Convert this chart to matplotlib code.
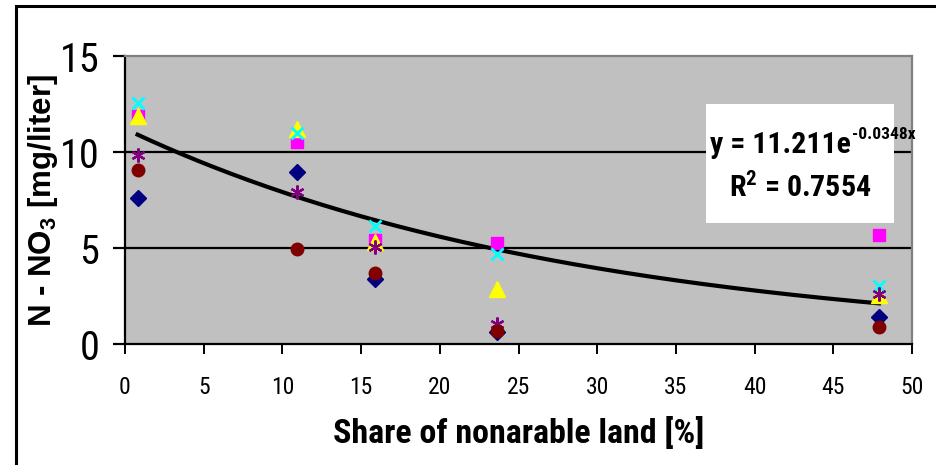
import numpy as np
import matplotlib
matplotlib.use("Agg")
import matplotlib.pyplot as plt
from matplotlib.patches import Rectangle

plt.rcParams['mathtext.default'] = 'regular'

# share of nonarable land [%] for the sampled catchments
share = [0.8, 10.9, 15.9, 23.65, 47.9]

# N-NO3 concentrations [mg/liter], one list per sampling series
s_diamond = [7.6, 8.95, 3.36, 0.64, 1.42]
s_square = [11.9, 10.5, 5.43, 5.28, 5.66]
s_triangle = [11.85, 11.2, 5.3, 2.89, 2.54]
s_cross = [12.57, 11.0, 6.17, 4.7, 3.0]
s_star = [9.86, 7.9, 5.05, 1.04, 2.63]
s_circle = [9.08, 4.97, 3.7, 0.67, 0.9]

# exponential trend shown on the chart
fit_a = 11.211
fit_b = -0.0348
fit_r2 = 0.7554

series = [
    (s_diamond, 'D', '#000080', 8),
    (s_square, 's', '#FF00FF', 9),
    (s_triangle, '^', '#FFFF00', 11),
    (s_cross, 'x', '#00FFFF', 9),
    (s_star, (6, 2, 0), '#800080', 10),
    (s_circle, 'o', '#800000', 9),
]

narrow = ['Roboto Condensed', 'Liberation Sans', 'DejaVu Sans']
wide = ['Liberation Sans', 'DejaVu Sans']

fig = plt.figure(figsize=(9.36, 4.65), dpi=100)
ax = fig.add_axes([125 / 936, 1 - 344 / 465, 787 / 936, 288 / 465])
ax.set_facecolor('#C0C0C0')

# frame around the whole chart
fig.patches.append(Rectangle((16 / 936, -0.05), 1.2, 1 - 6 / 465 + 0.05,
                             transform=fig.transFigure, fill=False,
                             edgecolor='black', linewidth=2.2))

# gridlines
for gy in [5, 10]:
    ax.axhline(gy, color='black', linewidth=1.6, zorder=1)

# trendline
xs = np.linspace(min(share), max(share), 200)
ax.plot(xs, fit_a * np.exp(fit_b * xs), color='black', linewidth=3, zorder=2)

for vals, mk, col, ms in series:
    if mk == 'x':
        ax.plot(share, vals, linestyle='none', marker=mk, color=col,
                markersize=ms, markeredgewidth=2, zorder=3)
    elif mk == (6, 2, 0):
        ax.plot(share, vals, linestyle='none', marker=mk, color=col,
                markersize=ms, markeredgewidth=1.6, zorder=3)
    else:
        ax.plot(share, vals, linestyle='none', marker=mk, color=col,
                markeredgecolor=col, markersize=ms, zorder=3)

ax.set_xlim(0, 50)
ax.set_ylim(0, 15)
ax.set_xticks(range(0, 51, 5))
ax.set_yticks([0, 5, 10, 15])

ax.spines['left'].set_linewidth(1.6)
ax.spines['bottom'].set_linewidth(1.6)
ax.spines['top'].set_color('#808080')
ax.spines['right'].set_color('#808080')
ax.spines['top'].set_linewidth(1.6)
ax.spines['right'].set_linewidth(1.6)

ax.tick_params(axis='y', direction='out', length=8.6, width=1.6, pad=10)
ax.tick_params(axis='x', direction='out', length=7, width=1.4, pad=16)
for lab in ax.get_yticklabels():
    lab.set_fontfamily(narrow)
    lab.set_fontsize(29)
for lab in ax.get_xticklabels():
    lab.set_fontfamily(narrow)
    lab.set_fontsize(17)

ax.set_xlabel('Share of nonarable land [%]', fontfamily=narrow,
              fontweight='bold', fontsize=24.5)
ax.xaxis.set_label_coords(0.5, -0.252)
ax.set_ylabel('N - NO$_3$ [mg/liter]', fontfamily=wide,
              fontweight='bold', fontsize=22.5)
ax.yaxis.set_label_coords(-0.083, 0.5)

# equation box
ax.add_patch(Rectangle((0.738, 0.419), 0.239, 0.415, transform=ax.transAxes,
                       facecolor='white', edgecolor='none', zorder=4))
eq = ax.text(0.743, 0.69, f'y = {fit_a:.3f}e', transform=ax.transAxes,
             ha='left', va='center', fontfamily=narrow, fontweight='bold',
             fontsize=21.5, zorder=5)
ax.annotate(f'{fit_b:.4f}x', xy=(1, 1), xycoords=eq, xytext=(1, 3),
            textcoords='offset points', ha='left', va='top',
            fontfamily=narrow, fontweight='bold', fontsize=12.5, zorder=5)
ax.text(0.858, 0.545, f'R$^2$ = {fit_r2:.4f}', transform=ax.transAxes,
        ha='center', va='center', fontfamily=narrow, fontweight='bold',
        fontsize=21.5, zorder=5)

fig.savefig('out.png', dpi=100)
